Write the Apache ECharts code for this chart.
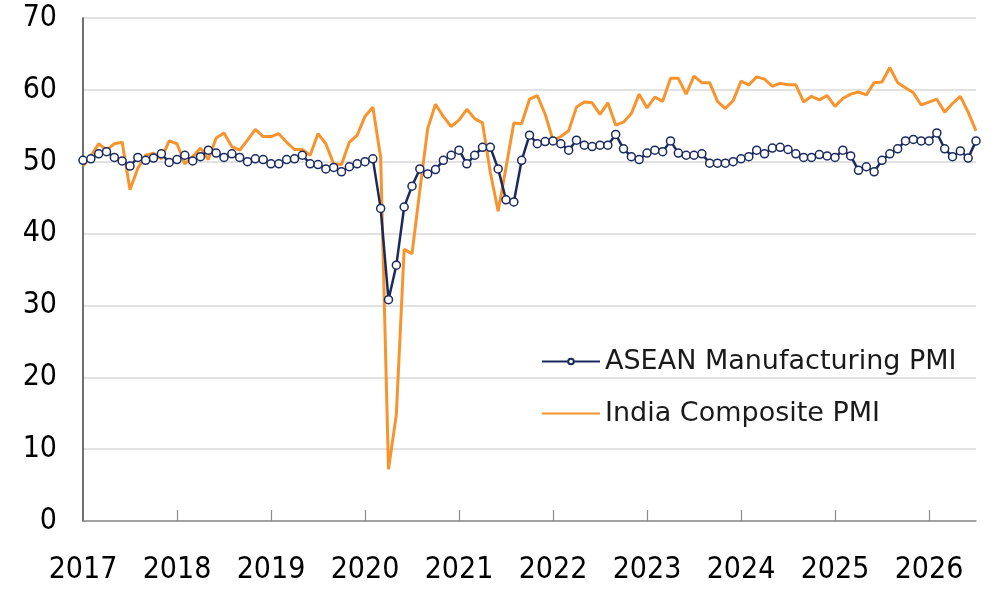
<!DOCTYPE html>
<html>
<head>
<meta charset="utf-8">
<script src="https://cdn.jsdelivr.net/npm/echarts@6/dist/echarts.min.js"></script>
<style>
  html, body { margin: 0; padding: 0; background: #fff; }
  #chart { width: 1000px; height: 592px; }
</style>
</head>
<body>
<div id="chart"></div>
<script>
// year tick labels, one category per month from Jan 2017 to Jul 2026
const tickLabels = ['2017', '2018', '2019', '2020', '2021', '2022', '2023', '2024', '2025', '2026'];
const lastMonth = 7; // July of the last year

const categories = [];
tickLabels.forEach((y, yi) => {
  const n = yi === tickLabels.length - 1 ? lastMonth : 12;
  for (let m = 1; m <= n; m++) categories.push(y + '-' + String(m).padStart(2, '0'));
});

const aseanPMI = [
  // 2017
  50.2, 50.4, 51.1, 51.4, 50.6, 50.1, 49.4, 50.6, 50.2, 50.5, 51.1, 49.9,
  // 2018
  50.3, 50.9, 50.1, 50.7, 51.6, 51.2, 50.6, 51.1, 50.6, 50.0, 50.4, 50.3,
  // 2019
  49.7, 49.7, 50.3, 50.4, 50.9, 49.7, 49.6, 49.0, 49.2, 48.6, 49.3, 49.7,
  // 2020
  50.0, 50.4, 43.5, 30.8, 35.6, 43.7, 46.6, 49.0, 48.3, 48.9, 50.2, 50.9,
  // 2021
  51.6, 49.7, 50.9, 52.0, 52.0, 49.0, 44.7, 44.4, 50.2, 53.7, 52.5, 52.8,
  // 2022
  52.9, 52.5, 51.6, 53.0, 52.3, 52.1, 52.3, 52.3, 53.8, 51.8, 50.7, 50.3,
  // 2023
  51.2, 51.6, 51.4, 52.9, 51.2, 50.9, 50.9, 51.1, 49.8, 49.8, 49.8, 50.0,
  // 2024
  50.4, 50.7, 51.6, 51.1, 51.9, 52.0, 51.7, 51.1, 50.6, 50.6, 51.0, 50.8,
  // 2025
  50.6, 51.6, 50.8, 48.8, 49.3, 48.6, 50.2, 51.1, 51.8, 52.9, 53.1, 52.9,
  // 2026
  52.9, 54.0, 51.8, 50.7, 51.5, 50.5, 52.9
];

const indiaPMI = [
  // 2017
  49.4, 50.8, 52.5, 51.6, 52.5, 52.7, 46.1, 49.1, 50.9, 51.2, 50.4, 52.9,
  // 2018
  52.5, 49.7, 50.7, 51.9, 50.3, 53.3, 54.0, 52.1, 51.6, 53.0, 54.5, 53.5,
  // 2019
  53.5, 53.9, 52.7, 51.7, 51.7, 50.9, 53.9, 52.5, 49.7, 49.6, 52.7, 53.7,
  // 2020
  56.3, 57.6, 50.6, 7.2, 14.8, 37.8, 37.2, 46.0, 54.6, 58.0, 56.3, 54.9,
  // 2021
  55.8, 57.3, 56.0, 55.4, 48.5, 43.1, 49.2, 55.4, 55.3, 58.7, 59.2, 56.6,
  // 2022
  53.0, 53.5, 54.3, 57.6, 58.3, 58.2, 56.6, 58.2, 55.1, 55.5, 56.7, 59.4,
  // 2023
  57.5, 59.0, 58.4, 61.6, 61.6, 59.4, 61.9, 61.0, 61.0, 58.4, 57.4, 58.5,
  // 2024
  61.2, 60.7, 61.8, 61.5, 60.5, 60.9, 60.7, 60.7, 58.3, 59.1, 58.6, 59.2,
  // 2025
  57.7, 58.8, 59.4, 59.7, 59.3, 61.0, 61.1, 63.1, 61.0, 60.3, 59.6, 57.9,
  // 2026
  58.3, 58.7, 56.9, 58.1, 59.1, 56.9, 54.3
];

const navy = '#1b2a5e';
const orange = '#f7942e';
const axisFont = "'Liberation Sans Narrow', 'DejaVu Sans Condensed', sans-serif";

const chart = echarts.init(document.getElementById('chart'));
chart.setOption({
  animation: false,
  backgroundColor: '#fff',
  grid: { left: 83, right: 24, top: 18, bottom: 71, containLabel: false },
  legend: {
    orient: 'vertical',
    left: 541,
    top: 348,
    padding: 0,
    itemWidth: 58,
    itemHeight: 7,
    itemGap: 25,
    textStyle: { fontFamily: 'DejaVu Sans', fontSize: 27, color: '#1a1a1a' },
    data: [
      { name: 'ASEAN Manufacturing PMI' },
      { name: 'India Composite PMI', itemStyle: { opacity: 0 } }
    ]
  },
  xAxis: {
    type: 'category',
    boundaryGap: false,
    data: categories,
    axisLine: { lineStyle: { color: '#8c8c8c', width: 1.5 } },
    axisTick: {
      inside: true,
      length: 11,
      interval: (i) => i % 12 === 0 && i > 0,
      lineStyle: { color: '#8c8c8c', width: 1.2 }
    },
    axisLabel: {
      interval: (i) => i % 12 === 0,
      formatter: (v) => v.slice(0, 4),
      margin: 34,
      fontFamily: axisFont,
      fontSize: 30,
      color: '#000'
    },
    splitLine: { show: false }
  },
  yAxis: {
    type: 'value',
    min: 0,
    max: 70,
    interval: 10,
    axisLine: { show: true, lineStyle: { color: '#404040', width: 1.5 } },
    axisTick: { show: false },
    axisLabel: { margin: 26, fontFamily: axisFont, fontSize: 30, color: '#000' },
    splitLine: { lineStyle: { color: '#d9d9d9', width: 1.5 } }
  },
  series: [
    {
      name: 'ASEAN Manufacturing PMI',
      type: 'line',
      data: aseanPMI,
      symbol: 'circle',
      symbolSize: 8,
      showSymbol: true,
      showAllSymbol: true,
      z: 3,
      lineStyle: { color: navy, width: 2.5 },
      itemStyle: { color: '#fff', borderColor: navy, borderWidth: 1.5 }
    },
    {
      name: 'India Composite PMI',
      type: 'line',
      data: indiaPMI,
      symbol: 'none',
      showSymbol: false,
      z: 2,
      lineStyle: { color: orange, width: 3 },
      itemStyle: { color: orange }
    }
  ]
});
</script>
</body>
</html>
